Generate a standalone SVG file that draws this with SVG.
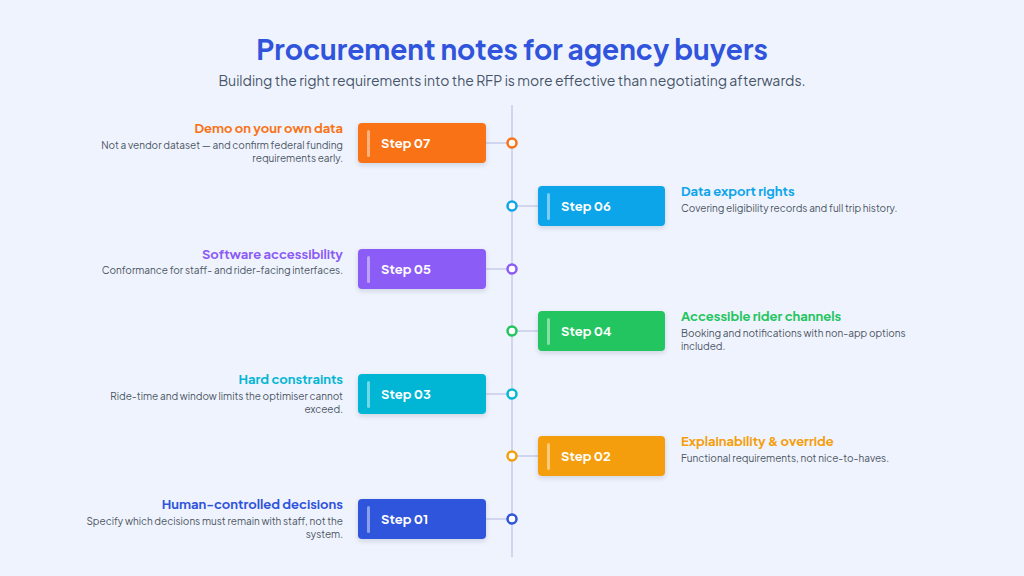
<svg xmlns="http://www.w3.org/2000/svg" width="1024" height="576" viewBox="0 0 1024 576">
<defs>
<style>
text{font-family:"Plus Jakarta Sans",Inter,"Liberation Sans",sans-serif}
.t{font-size:28px;font-weight:700;fill:#3054DB}
.s{font-size:14px;fill:#475569}
.h{font-size:13px;font-weight:700}
.d{font-size:10px;fill:#4B5563}
.lbl{font-size:13px;font-weight:700;fill:#fff}
.bar{fill:#fff;opacity:.45}
.dot{fill:#fff;stroke-width:2.5}
.conn{stroke:#C5CCE8;stroke-width:1.5}
</style>
<filter id="sh" x="-20%" y="-30%" width="140%" height="170%"><feDropShadow dx="0" dy="2" stdDeviation="2.5" flood-color="#1e293b" flood-opacity=".15"/></filter>
</defs>
<rect width="1024" height="576" fill="#EFF3FD"/>
<text class="t" x="512" y="60" text-anchor="middle">Procurement notes for agency buyers</text>
<text class="s" x="512" y="86" text-anchor="middle">Building the right requirements into the RFP is more effective than negotiating afterwards.</text>
<g id="connectors">
<line class="conn" x1="512" y1="105" x2="512" y2="557"/>
<line class="conn" x1="486" y1="143" x2="507" y2="143"/>
<line class="conn" x1="517" y1="206" x2="538" y2="206"/>
<line class="conn" x1="486" y1="269" x2="507" y2="269"/>
<line class="conn" x1="517" y1="331" x2="538" y2="331"/>
<line class="conn" x1="486" y1="394" x2="507" y2="394"/>
<line class="conn" x1="517" y1="456" x2="538" y2="456"/>
<line class="conn" x1="486" y1="519" x2="507" y2="519"/>
</g>
<g id="step07">
<rect x="358" y="123" width="128" height="40" rx="4" fill="#F97316" filter="url(#sh)"/><rect class="bar" x="367" y="130" width="3" height="27" rx="1.5"/>
<text class="lbl" x="381" y="148">Step 07</text>
<circle class="dot" cx="512" cy="143" r="4.5" stroke="#F97316"/>
<text class="h" x="343" y="133" text-anchor="end" fill="#F97316">Demo on your own data</text>
<text class="d" x="343" y="149" text-anchor="end">Not a vendor dataset — and confirm federal funding</text>
<text class="d" x="343" y="162" text-anchor="end">requirements early.</text>
</g>
<g id="step06">
<rect x="538" y="186" width="127" height="40" rx="4" fill="#0EA5E9" filter="url(#sh)"/><rect class="bar" x="547" y="193" width="3" height="27" rx="1.5"/>
<text class="lbl" x="561" y="211">Step 06</text>
<circle class="dot" cx="512" cy="206" r="4.5" stroke="#0EA5E9"/>
<text class="h" x="681" y="196" fill="#0EA5E9">Data export rights</text>
<text class="d" x="681" y="212">Covering eligibility records and full trip history.</text>
</g>
<g id="step05">
<rect x="358" y="249" width="128" height="40" rx="4" fill="#8B5CF6" filter="url(#sh)"/><rect class="bar" x="367" y="256" width="3" height="27" rx="1.5"/>
<text class="lbl" x="381" y="274">Step 05</text>
<circle class="dot" cx="512" cy="269" r="4.5" stroke="#8B5CF6"/>
<text class="h" x="343" y="259" text-anchor="end" fill="#8B5CF6">Software accessibility</text>
<text class="d" x="343" y="274" text-anchor="end">Conformance for staff- and rider-facing interfaces.</text>
</g>
<g id="step04">
<rect x="538" y="311" width="127" height="40" rx="4" fill="#22C55E" filter="url(#sh)"/><rect class="bar" x="547" y="318" width="3" height="27" rx="1.5"/>
<text class="lbl" x="561" y="336">Step 04</text>
<circle class="dot" cx="512" cy="331" r="4.5" stroke="#22C55E"/>
<text class="h" x="681" y="321" fill="#22C55E">Accessible rider channels</text>
<text class="d" x="681" y="337">Booking and notifications with non-app options</text>
<text class="d" x="681" y="350">included.</text>
</g>
<g id="step03">
<rect x="358" y="374" width="128" height="40" rx="4" fill="#06B6D4" filter="url(#sh)"/><rect class="bar" x="367" y="381" width="3" height="27" rx="1.5"/>
<text class="lbl" x="381" y="399">Step 03</text>
<circle class="dot" cx="512" cy="394" r="4.5" stroke="#06B6D4"/>
<text class="h" x="343" y="384" text-anchor="end" fill="#06B6D4">Hard constraints</text>
<text class="d" x="343" y="400" text-anchor="end">Ride-time and window limits the optimiser cannot</text>
<text class="d" x="343" y="413" text-anchor="end">exceed.</text>
</g>
<g id="step02">
<rect x="538" y="436" width="127" height="40" rx="4" fill="#F59E0B" filter="url(#sh)"/><rect class="bar" x="547" y="443" width="3" height="27" rx="1.5"/>
<text class="lbl" x="561" y="461">Step 02</text>
<circle class="dot" cx="512" cy="456" r="4.5" stroke="#F59E0B"/>
<text class="h" x="681" y="446" fill="#F59E0B">Explainability &amp; override</text>
<text class="d" x="681" y="462">Functional requirements, not nice-to-haves.</text>
</g>
<g id="step01">
<rect x="358" y="499" width="128" height="40" rx="4" fill="#2F54DB" filter="url(#sh)"/><rect class="bar" x="367" y="506" width="3" height="27" rx="1.5"/>
<text class="lbl" x="381" y="524">Step 01</text>
<circle class="dot" cx="512" cy="519" r="4.5" stroke="#2F54DB"/>
<text class="h" x="343" y="509" text-anchor="end" fill="#2F54DB">Human-controlled decisions</text>
<text class="d" x="343" y="525" text-anchor="end">Specify which decisions must remain with staff, not the</text>
<text class="d" x="343" y="538" text-anchor="end">system.</text>
</g>
</svg>
